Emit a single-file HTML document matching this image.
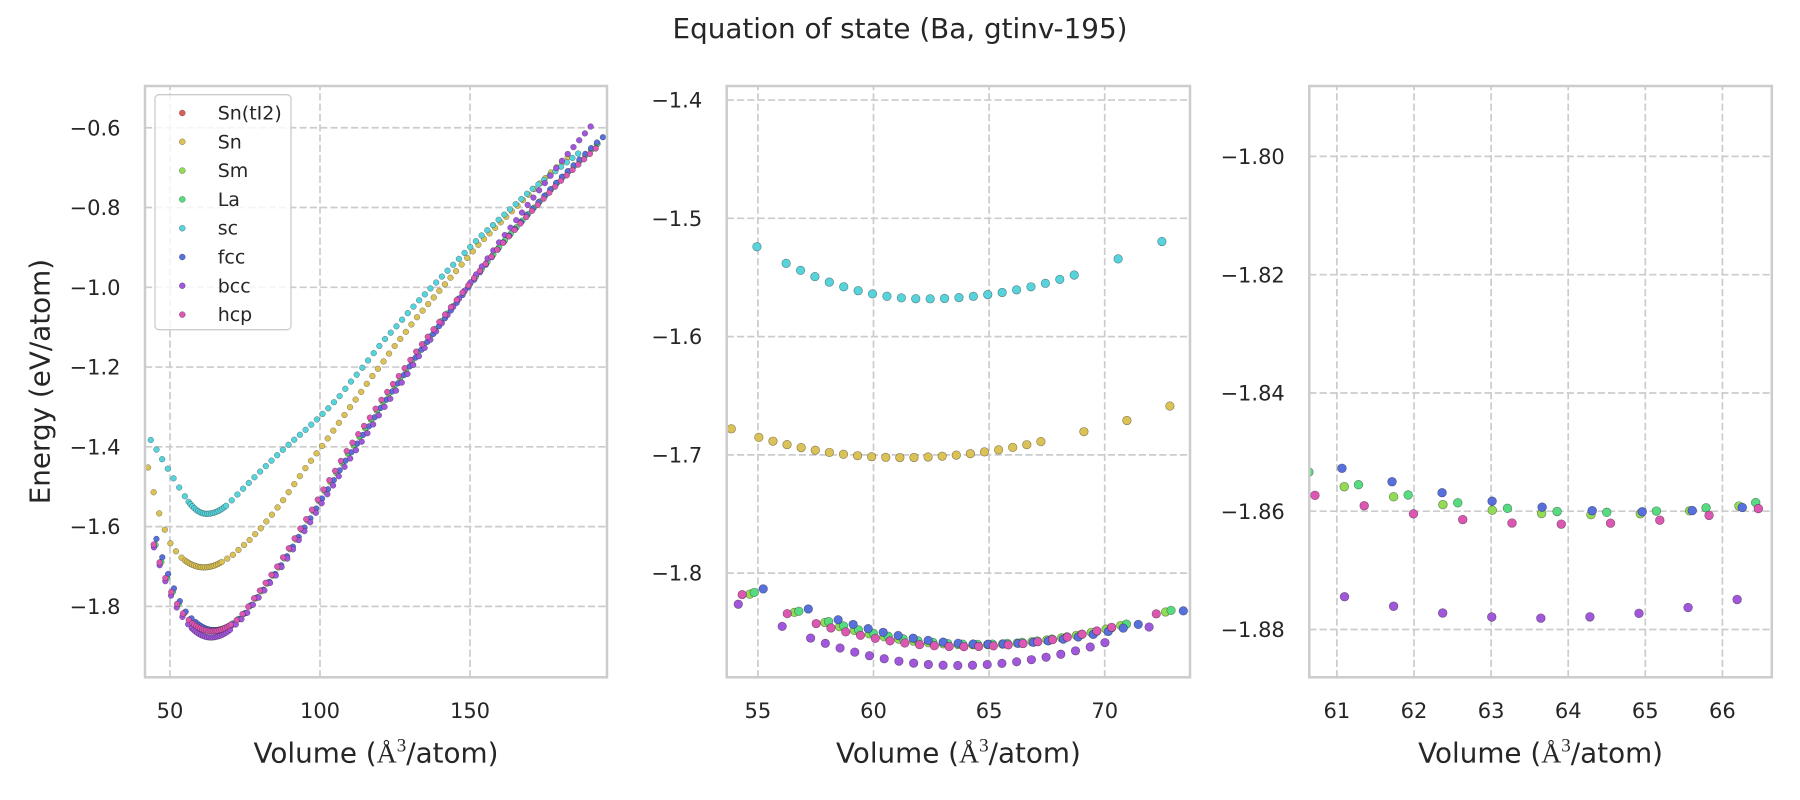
<!DOCTYPE html>
<html>
<head>
<meta charset="utf-8">
<style>
html,body{margin:0;padding:0;background:#fff;}
svg{display:block;}
</style>
</head>
<body>
<svg id="fig" width="1800" height="800" xmlns="http://www.w3.org/2000/svg" font-family="'DejaVu Sans','Liberation Sans',sans-serif" fill="#262626">
<defs>
  <clipPath id="c1"><rect x="145" y="86" width="462" height="591.3"/></clipPath>
  <clipPath id="c2"><rect x="726.7" y="86" width="463.3" height="591.3"/></clipPath>
  <clipPath id="c3"><rect x="1309.3" y="86" width="462.5" height="591.3"/></clipPath>
</defs>
<rect x="0" y="0" width="1800" height="800" fill="#ffffff"/>

<!-- Title -->
<text x="900" y="38" text-anchor="middle" font-size="27.8">Equation of state (Ba, gtinv-195)</text>

<!-- Grids -->
<g stroke="#cccccc" stroke-width="1.7" stroke-dasharray="7.2 3.1" fill="none">
  <!-- panel 1 -->
  <line x1="145" y1="127.75" x2="607" y2="127.75"/>
  <line x1="145" y1="207.5" x2="607" y2="207.5"/>
  <line x1="145" y1="287.3" x2="607" y2="287.3"/>
  <line x1="145" y1="367.05" x2="607" y2="367.05"/>
  <line x1="145" y1="446.8" x2="607" y2="446.8"/>
  <line x1="145" y1="526.6" x2="607" y2="526.6"/>
  <line x1="145" y1="606.35" x2="607" y2="606.35"/>
  <line x1="170" y1="677.3" x2="170" y2="86"/>
  <line x1="320" y1="677.3" x2="320" y2="86"/>
  <line x1="470" y1="677.3" x2="470" y2="86"/>
  <!-- panel 2 -->
  <line x1="726.7" y1="100.07" x2="1190" y2="100.07"/>
  <line x1="726.7" y1="218.3" x2="1190" y2="218.3"/>
  <line x1="726.7" y1="336.6" x2="1190" y2="336.6"/>
  <line x1="726.7" y1="454.9" x2="1190" y2="454.9"/>
  <line x1="726.7" y1="573.1" x2="1190" y2="573.1"/>
  <line x1="757.9" y1="677.3" x2="757.9" y2="86"/>
  <line x1="873.5" y1="677.3" x2="873.5" y2="86"/>
  <line x1="989.1" y1="677.3" x2="989.1" y2="86"/>
  <line x1="1104.7" y1="677.3" x2="1104.7" y2="86"/>
  <!-- panel 3 -->
  <line x1="1309.3" y1="156.4" x2="1771.8" y2="156.4"/>
  <line x1="1309.3" y1="274.7" x2="1771.8" y2="274.7"/>
  <line x1="1309.3" y1="393.0" x2="1771.8" y2="393.0"/>
  <line x1="1309.3" y1="511.2" x2="1771.8" y2="511.2"/>
  <line x1="1309.3" y1="629.5" x2="1771.8" y2="629.5"/>
  <line x1="1336.9" y1="677.3" x2="1336.9" y2="86"/>
  <line x1="1414.0" y1="677.3" x2="1414.0" y2="86"/>
  <line x1="1491.1" y1="677.3" x2="1491.1" y2="86"/>
  <line x1="1568.2" y1="677.3" x2="1568.2" y2="86"/>
  <line x1="1645.3" y1="677.3" x2="1645.3" y2="86"/>
  <line x1="1722.4" y1="677.3" x2="1722.4" y2="86"/>
</g>

<!-- Data points (filled by script) -->
<g id="p1" clip-path="url(#c1)"></g>
<g id="p2" clip-path="url(#c2)"></g>
<g id="p3" clip-path="url(#c3)"></g>

<!-- Spines -->
<g fill="none" stroke="#cccccc" stroke-width="2.5">
  <rect x="145" y="86" width="462" height="591.3"/>
  <rect x="726.7" y="86" width="463.3" height="591.3"/>
  <rect x="1309.3" y="86" width="462.5" height="591.3"/>
</g>

<!-- Tick labels -->
<g font-size="21">
  <g text-anchor="end">
    <text x="120.5" y="135.35">−0.6</text>
    <text x="120.5" y="215.1">−0.8</text>
    <text x="120.5" y="294.9">−1.0</text>
    <text x="120.5" y="374.65">−1.2</text>
    <text x="120.5" y="454.4">−1.4</text>
    <text x="120.5" y="534.2">−1.6</text>
    <text x="120.5" y="613.95">−1.8</text>

    <text x="702.2" y="107.7">−1.4</text>
    <text x="702.2" y="225.9">−1.5</text>
    <text x="702.2" y="344.2">−1.6</text>
    <text x="702.2" y="462.5">−1.7</text>
    <text x="702.2" y="580.7">−1.8</text>

    <text x="1284.8" y="164.0">−1.80</text>
    <text x="1284.8" y="282.3">−1.82</text>
    <text x="1284.8" y="400.6">−1.84</text>
    <text x="1284.8" y="518.8">−1.86</text>
    <text x="1284.8" y="637.1">−1.88</text>
  </g>
  <g text-anchor="middle">
    <text x="170" y="718">50</text>
    <text x="320" y="718">100</text>
    <text x="470" y="718">150</text>

    <text x="757.9" y="718">55</text>
    <text x="873.5" y="718">60</text>
    <text x="989.1" y="718">65</text>
    <text x="1104.7" y="718">70</text>

    <text x="1336.9" y="718">61</text>
    <text x="1414.0" y="718">62</text>
    <text x="1491.1" y="718">63</text>
    <text x="1568.2" y="718">64</text>
    <text x="1645.3" y="718">65</text>
    <text x="1722.4" y="718">66</text>
  </g>
</g>

<!-- Axis labels -->
<g font-size="27.8" text-anchor="middle">
  <text x="376" y="762.5">Volume (<tspan font-family="'Liberation Serif','DejaVu Serif',serif">Å</tspan><tspan font-family="'Liberation Serif','DejaVu Serif',serif" font-size="19" dy="-11">3</tspan><tspan dy="11">/atom)</tspan></text>
  <text x="958.4" y="762.5">Volume (<tspan font-family="'Liberation Serif','DejaVu Serif',serif">Å</tspan><tspan font-family="'Liberation Serif','DejaVu Serif',serif" font-size="19" dy="-11">3</tspan><tspan dy="11">/atom)</tspan></text>
  <text x="1540.6" y="762.5">Volume (<tspan font-family="'Liberation Serif','DejaVu Serif',serif">Å</tspan><tspan font-family="'Liberation Serif','DejaVu Serif',serif" font-size="19" dy="-11">3</tspan><tspan dy="11">/atom)</tspan></text>
  <text transform="translate(49.5,381.6) rotate(-90)">Energy (eV/atom)</text>
</g>

<!-- Legend -->
<g>
  <rect x="155" y="94.7" width="136" height="235" rx="4" ry="4" fill="#ffffff" fill-opacity="0.8" stroke="#cccccc" stroke-width="1.3"/>
  <g stroke="rgba(0,0,0,0.45)" stroke-width="0.5">
    <circle cx="182.3" cy="113" r="3" fill="#db5f57"/>
    <circle cx="182.3" cy="141.8" r="3" fill="#dbc257"/>
    <circle cx="182.3" cy="170.6" r="3" fill="#91db57"/>
    <circle cx="182.3" cy="199.4" r="3" fill="#57db80"/>
    <circle cx="182.3" cy="228.2" r="3" fill="#57d3db"/>
    <circle cx="182.3" cy="257" r="3" fill="#5770db"/>
    <circle cx="182.3" cy="285.8" r="3" fill="#a157db"/>
    <circle cx="182.3" cy="314.6" r="3" fill="#db57b2"/>
  </g>
  <g font-size="19">
    <text x="217.7" y="119.5">Sn(tI2)</text>
    <text x="217.7" y="148.3">Sn</text>
    <text x="217.7" y="177.1">Sm</text>
    <text x="217.7" y="205.9">La</text>
    <text x="217.7" y="234.7">sc</text>
    <text x="217.7" y="263.5">fcc</text>
    <text x="217.7" y="292.3">bcc</text>
    <text x="217.7" y="321.1">hcp</text>
  </g>
</g>
</svg>

<script>
(function(){
var NS='http://www.w3.org/2000/svg';
function lin(t,v){
  var i=1; while(i<t.length-1 && v>t[i][0]) i++;
  var a=t[i-1], b=t[i];
  return a[1]+(b[1]-a[1])*(v-a[0])/(b[0]-a[0]);
}
function quad(s,v){var d=v-s.V0;return s.E0+(d<0?s.kL:s.kR)*d*d;}
function rg(a,st,n){var r=[];for(var i=0;i<n;i++)r.push(a+st*i);return r;}

var HCP={c:'#db57b2',E0:-1.8622,V0:63.9,kL:0.00048,kR:0.0004,qa:54.3,qb:72.3,
 left:[[44.57,-1.645],[46.52,-1.690],[48.47,-1.729],[50.42,-1.764],[52.37,-1.794]],
 right:[[75,-1.813],[77.8,-1.782],[81.7,-1.743],[85.6,-1.702],[89.4,-1.657],[93.3,-1.607],[97.3,-1.558],[101.1,-1.508],[104.9,-1.462],[108.7,-1.413],[112.8,-1.368],[116.7,-1.326],[120.4,-1.283],[124.4,-1.242],[128.1,-1.204],[131.9,-1.163],[141,-1.075],[150.7,-0.983],[160,-0.897],[169.7,-0.816],[180,-0.735],[191.9,-0.652],[200,-0.60]],
 vols:[].concat(rg(44.57,1.95,7),rg(57.52,0.639,21),rg(72.23,1.93,63))};

function E(s,v){
  if(v>=s.qa && v<=s.qb) return quad(s,v);
  if(v<s.qa) return lin(s.left.concat([[s.qa,quad(s,s.qa)]]),v);
  if(s.right) return lin([[s.qb,quad(s,s.qb)]].concat(s.right),v);
  var d0=E(HCP,s.qb)-quad(s,s.qb);
  return E(HCP,v)-lin([[s.qb,d0]].concat(s.d),v);
}

var GOLD={c:'#dbc257',E0:-1.7023,V0:61.2,kL:0.00045,kR:0.00037,qa:53.85,qb:67.3,
 left:[[42.69,-1.452],[44.55,-1.514],[46.41,-1.567],[48.27,-1.608],[50.13,-1.642],[51.99,-1.662]],
 right:[[69.1,-1.6804],[70.93,-1.6711],[72.73,-1.6593],[76.5,-1.634],[80.3,-1.604],[83.9,-1.571],[87.6,-1.535],[91.3,-1.495],[94.9,-1.456],[98.7,-1.418],[102.4,-1.381],[106.1,-1.342],[109.7,-1.304],[113.3,-1.267],[117,-1.227],[120.8,-1.19],[124.4,-1.152],[128.3,-1.115],[131.9,-1.079],[153.3,-0.889],[177.8,-0.706],[190,-0.625]],
 vols:[].concat(rg(42.69,1.86,7),rg(55.04,0.61,21),rg(69.1,1.86,62))};

var CYAN={c:'#57d3db',E0:-1.5681,V0:62.2,kL:0.00084,kR:0.00048,qa:54.96,qb:68.7,
 left:[[43.6,-1.383],[45.49,-1.407],[47.38,-1.431],[49.28,-1.455],[51.17,-1.479],[53.06,-1.502]],
 right:[[70.58,-1.5343],[72.43,-1.5199],[76.67,-1.4875],[80,-1.4625],[83.8,-1.435],[87.4,-1.409],[91.3,-1.383],[95.1,-1.358],[98.9,-1.332],[102.7,-1.304],[106.6,-1.2725],[110.2,-1.2375],[113.9,-1.204],[117.6,-1.168],[121.3,-1.133],[125,-1.102],[128.9,-1.068],[132.6,-1.036],[153.3,-0.874],[170.4,-0.756],[187.2,-0.658],[195,-0.615]],
 vols:[].concat(rg(43.6,1.893,7),rg(56.22,0.623,21),rg(70.58,1.893,62))};

var FCC={c:'#5770db',E0:-1.8601,V0:64.9,kL:0.0005,kR:0.00039,qa:55.2,qb:73.4,
 left:[[45.48,-1.631],[47.43,-1.677],[49.38,-1.719],[51.33,-1.755],[53.28,-1.787]],
 d:[[80,0.010],[93,0.014],[111,0.02],[128,0.015],[150,0.005],[192,-0.012],[200,-0.015]],
 vols:[].concat(rg(45.48,1.95,7),rg(58.47,0.649,21),rg(73.40,1.95,63))};

var BCC={c:'#a157db',E0:-1.8781,V0:63.6,kL:0.00058,kR:0.00047,qa:54.1,qb:71.95,
 left:[[44.65,-1.652],[46.55,-1.697],[48.45,-1.737],[50.35,-1.773],[52.25,-1.803]],
 d:[[77,0.012],[93,0.022],[111,0.032],[128,0.026],[150,0.0],[164.2,-0.018],[175.6,-0.037],[190.8,-0.068],[200,-0.085]],
 vols:[].concat(rg(44.65,1.9,7),rg(57.28,0.6365,21),rg(71.92,1.908,63))};

var LA={c:'#57db80',E0:-1.8602,V0:64.4,kL:0.00048,kR:0.0004,qa:54.8,qb:72.9,
 left:[[44.95,-1.641],[46.88,-1.684],[48.81,-1.724],[50.74,-1.760],[52.67,-1.791]],
 d:[[80,0.006],[93,0.008],[111,0.012],[128,0.008],[150,0.002],[193,-0.008],[200,-0.01]],
 vols:[].concat(rg(45.19,1.93,7),rg(58.06,0.644,21),rg(72.87,1.93,63))};

var SM={c:'#91db57',E0:-1.8606,V0:64.3,kL:0.00046,kR:0.0004,qa:54.6,qb:72.7,
 left:[[44.8,-1.641],[46.7,-1.684],[48.6,-1.724],[50.5,-1.760],[52.5,-1.791]],
 d:[[80,0.006],[93,0.008],[111,0.012],[128,0.008],[150,0.002],[193,-0.008],[200,-0.01]],
 vols:[].concat(rg(45.0,1.93,7),rg(57.895,0.64,21),rg(72.63,1.93,63))};

var order=[GOLD,SM,LA,CYAN,FCC,BCC,HCP];

var panels=[
 {id:'p1',x0:145,x1:607,vmin:41.67,sx:3.0,etop:-0.4953,sy:398.8,r:2.9,sw:0.5},
 {id:'p2',x0:726.7,x1:1190,vmin:53.65,sx:23.12,etop:-1.3881,sy:1182.6,r:4.3,sw:0.6},
 {id:'p3',x0:1309.3,x1:1771.8,vmin:60.642,sx:77.1,etop:-1.7881,sy:5913,r:4.4,sw:0.6}
];
for(var p=0;p<panels.length;p++){
  var P=panels[p], g=document.getElementById(P.id);
  for(var k=0;k<order.length;k++){
    var s=order[k];
    for(var j=0;j<s.vols.length;j++){
      var v=s.vols[j], e=E(s,v);
      var x=P.x0+(v-P.vmin)*P.sx, y=86+(P.etop-e)*P.sy;
      if(x<P.x0-6||x>P.x1+6||y<80||y>684) continue;
      var c=document.createElementNS(NS,'circle');
      c.setAttribute('cx',x.toFixed(2));
      c.setAttribute('cy',y.toFixed(2));
      c.setAttribute('r',P.r);
      c.setAttribute('fill',s.c);
      c.setAttribute('stroke','rgba(0,0,0,0.45)');
      c.setAttribute('stroke-width',P.sw);
      g.appendChild(c);
    }
  }
}
})();
</script>
</body>
</html>
